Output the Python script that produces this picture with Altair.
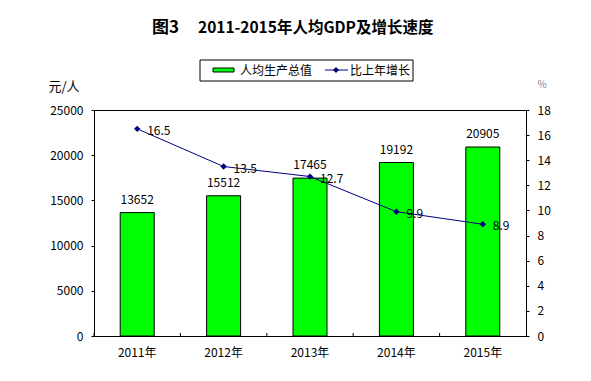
import altair as alt
import pandas as pd

years = ["2011年", "2012年", "2013年", "2014年", "2015年"]
gdp = [13652, 15512, 17465, 19192, 20905]
growth = [16.5, 13.5, 12.7, 9.9, 8.9]

title_fig = "图3"
title_text = "2011-2015年人均GDP及增长速度"
legend_bar = "人均生产总值"
legend_line = "比上年增长"

df = pd.DataFrame({"year": years, "gdp": gdp, "growth": growth})
FONT = "Noto Sans CJK SC"
NAVY = "#000080"
GREEN = "#00FF00"

base = alt.Chart(df)
xenc = alt.X("year:N", sort=years, title=None,
             scale=alt.Scale(paddingInner=0, paddingOuter=0),
             axis=alt.Axis(labelAngle=0, ticks=False, domainColor="black",
                           labelColor="black", labelFontSize=12, labelFont=FONT,
                           labelPadding=11))

left_axis = alt.Axis(values=[0, 5000, 10000, 15000, 20000, 25000], grid=False,
                     format="d", labelOverlap=False,
                     domainColor="black", tickColor="black", tickSize=3,
                     labelColor="black", labelFontSize=12, labelFont=FONT,
                     labelPadding=8, title="元/人", titleAngle=0,
                     titleX=-46, titleY=-24, titleAlign="left",
                     titleBaseline="middle", titleFontWeight="normal",
                     titleFontSize=13, titleFont=FONT, titleColor="black")
yleft = alt.Y("gdp:Q", scale=alt.Scale(domain=[0, 25000]), axis=left_axis)

bars = base.mark_bar(width=34, color=GREEN, stroke="black", strokeWidth=1).encode(
    x=xenc, y=yleft)
bar_labels = base.mark_text(dy=-13, fontSize=12, font=FONT, color="black").encode(
    x=alt.X("year:N", sort=years), y=yleft, text=alt.Text("gdp:Q", format="d"))

# small inward ticks on x axis at category boundaries
xticks = base.mark_rule(color="black", strokeWidth=1).encode(
    x=alt.X("year:N", sort=years, bandPosition=0),
    y=alt.value(223), y2=alt.value(226))

left = alt.layer(bars, bar_labels, xticks)

right_axis = alt.Axis(orient="right", values=[0, 2, 4, 6, 8, 10, 12, 14, 16, 18],
                      grid=False, labelOverlap=False, format="d",
                      domainColor="black", tickColor="black", tickSize=3,
                      labelColor="black", labelFontSize=12, labelFont=FONT,
                      labelPadding=8, title="%", titleAngle=0,
                      titleX=11, titleY=-26, titleAlign="left",
                      titleBaseline="middle", titleFontWeight="normal",
                      titleFontSize=10, titleFont=FONT, titleColor="#888888")
yright = alt.Y("growth:Q", scale=alt.Scale(domain=[0, 18]), axis=right_axis)

line = base.mark_line(color=NAVY, strokeWidth=1).encode(
    x=alt.X("year:N", sort=years), y=yright)
pts = base.mark_point(shape="diamond", filled=True, color=NAVY, size=40, opacity=1).encode(
    x=alt.X("year:N", sort=years), y=yright)
line_labels = base.mark_text(align="left", dx=10, dy=2, fontSize=12, font=FONT,
                             color="black").encode(
    x=alt.X("year:N", sort=years), y=yright,
    text=alt.Text("growth:Q", format=".1f"))

right = alt.layer(line, pts, line_labels)

one = alt.Data(values=[{}])
title1 = alt.Chart(one).mark_text(fontSize=17, fontWeight="bold", font=FONT,
                                  color="black", baseline="middle", align="left").encode(
    x=alt.value(58), y=alt.value(-82), text=alt.value(title_fig))
title2 = alt.Chart(one).mark_text(fontSize=15.5, fontWeight="bold", font=FONT,
                                  color="black", baseline="middle", align="left").encode(
    x=alt.value(104), y=alt.value(-82), text=alt.value(title_text))
lbox = alt.Chart(one).mark_rect(fill="white", stroke="black", strokeWidth=1).encode(
    x=alt.value(106), x2=alt.value(319), y=alt.value(-50), y2=alt.value(-29))
lgreen = alt.Chart(one).mark_rect(fill=GREEN, stroke="black", strokeWidth=1).encode(
    x=alt.value(119), x2=alt.value(140), y=alt.value(-42), y2=alt.value(-38))
ltext1 = alt.Chart(one).mark_text(align="left", baseline="middle", fontSize=12,
                                  font=FONT, color="black").encode(
    x=alt.value(146), y=alt.value(-39.5), text=alt.value(legend_bar))
lline = alt.Chart(one).mark_rule(color=NAVY, strokeWidth=1).encode(
    x=alt.value(231), x2=alt.value(254), y=alt.value(-40))
lpt = alt.Chart(one).mark_point(shape="diamond", filled=True, color=NAVY, size=35,
                                opacity=1).encode(x=alt.value(242), y=alt.value(-40))
ltext2 = alt.Chart(one).mark_text(align="left", baseline="middle", fontSize=12,
                                  font=FONT, color="black").encode(
    x=alt.value(256), y=alt.value(-39.5), text=alt.value(legend_line))

chart = alt.layer(left, right, title1, title2, lbox, lgreen, ltext1, lline, lpt,
                  ltext2).resolve_scale(y="independent").properties(
    width=432, height=226,
    autosize=alt.AutoSizeParams(type="none"),
    padding={"left": 86, "top": 102, "right": 50, "bottom": 30},
    background="white",
).configure_view(stroke="black", strokeWidth=1)

chart.save("out.html", embed_options={"renderer": "svg", "actions": False})
